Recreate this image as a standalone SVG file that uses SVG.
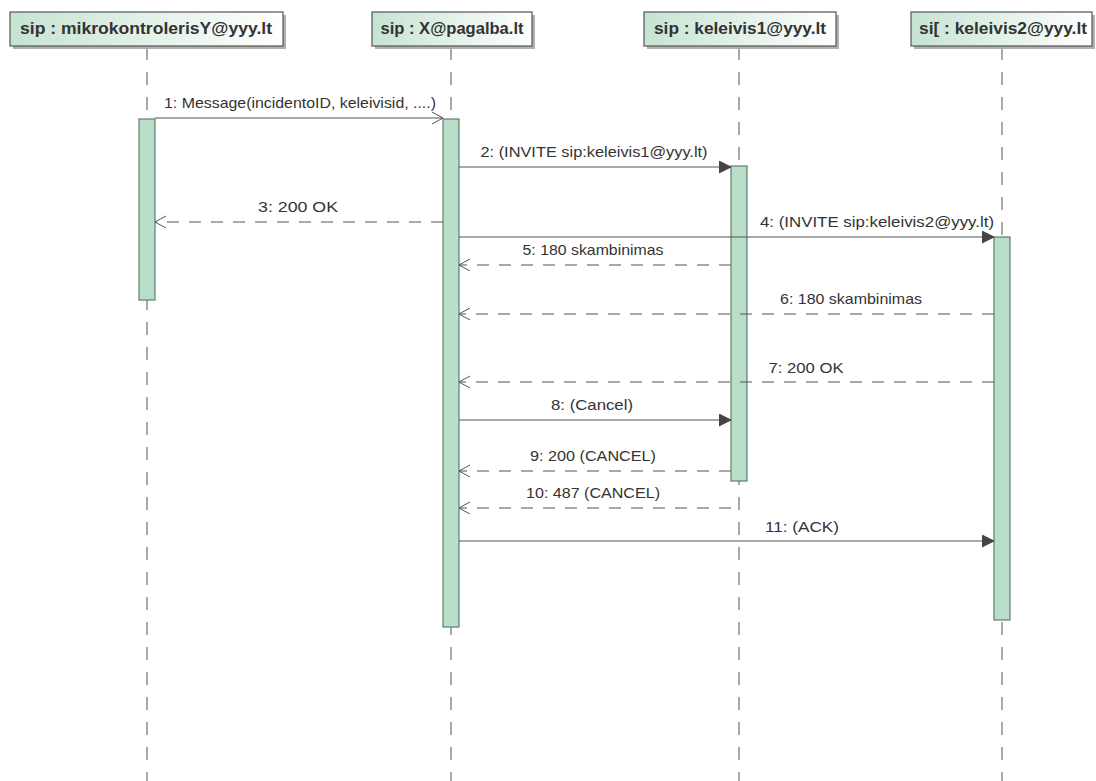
<svg xmlns="http://www.w3.org/2000/svg" width="1096" height="781" viewBox="0 0 1096 781">
<defs>
<linearGradient id="hg" x1="0" y1="0" x2="1" y2="0">
<stop offset="0" stop-color="#c6e3d2"/>
<stop offset="1" stop-color="#ffffff"/>
</linearGradient>
<marker id="open" markerWidth="14" markerHeight="14" refX="12" refY="6" orient="auto" markerUnits="userSpaceOnUse">
<path d="M1,0 L12,6 L1,12" fill="none" stroke="#555" stroke-width="1"/>
</marker>
<marker id="filled" markerWidth="14" markerHeight="14" refX="12" refY="6" orient="auto" markerUnits="userSpaceOnUse">
<path d="M0,0 L12,6 L0,12 Z" fill="#444" stroke="#444"/>
</marker>
<style>
.head{fill:url(#hg);stroke:#555;stroke-width:1.2}
.shadow{fill:#b0b0b0}
.ht{font-family:"Liberation Sans",Arial,sans-serif;font-size:16px;font-weight:bold;fill:#333;text-anchor:middle}
.life{stroke:#555;stroke-width:1;stroke-dasharray:13 12;fill:none}
.act{fill:#b9dfca;stroke:#5f7d6c;stroke-width:1.2}
.msg{stroke:#555;stroke-width:1.1;fill:none}
.ret{stroke:#555;stroke-width:1.1;fill:none;stroke-dasharray:12 10}
.lbl{font-family:"Liberation Sans",Arial,sans-serif;font-size:15px;fill:#333;text-anchor:middle}
</style>
</defs>
<rect width="1096" height="781" fill="#fff"/>

<g id="lifeline-mikrokontroleris">
<line class="life" x1="147" y1="47" x2="147" y2="781"/>
<rect class="shadow" x="13" y="15" width="273" height="34"/>
<rect class="head" x="10" y="12" width="273" height="34"/>
<text class="ht" x="146" y="34" textLength="252" lengthAdjust="spacingAndGlyphs">sip : mikrokontrolerisY@yyy.lt</text>
<rect class="act" x="139" y="119" width="16" height="181"/>
</g>

<g id="lifeline-pagalba">
<line class="life" x1="451" y1="47" x2="451" y2="781"/>
<rect class="shadow" x="375" y="15" width="160" height="34"/>
<rect class="head" x="372" y="12" width="160" height="34"/>
<text class="ht" x="452" y="34" textLength="143" lengthAdjust="spacingAndGlyphs">sip : X@pagalba.lt</text>
<rect class="act" x="443" y="119" width="16" height="508"/>
</g>

<g id="lifeline-keleivis1">
<line class="life" x1="739" y1="47" x2="739" y2="781"/>
<rect class="shadow" x="647" y="15" width="192" height="34"/>
<rect class="head" x="644" y="12" width="192" height="34"/>
<text class="ht" x="740" y="34" textLength="172" lengthAdjust="spacingAndGlyphs">sip : keleivis1@yyy.lt</text>
<rect class="act" x="731" y="166" width="16" height="315"/>
</g>

<g id="lifeline-keleivis2">
<line class="life" x1="1002" y1="47" x2="1002" y2="781"/>
<rect class="shadow" x="914" y="15" width="181" height="34"/>
<rect class="head" x="911" y="12" width="181" height="34"/>
<text class="ht" x="1003" y="34" textLength="168" lengthAdjust="spacingAndGlyphs">si[ : keleivis2@yyy.lt</text>
<rect class="act" x="994" y="237" width="16" height="383"/>
</g>

<g id="connectors">
<line class="msg" x1="155" y1="118" x2="443" y2="118" marker-end="url(#open)"/>
<text class="lbl" x="300" y="108" textLength="272" lengthAdjust="spacingAndGlyphs">1: Message(incidentoID, keleivisid, ....)</text>

<line class="msg" x1="459" y1="167" x2="731" y2="167" marker-end="url(#filled)"/>
<text class="lbl" x="594" y="157" textLength="227" lengthAdjust="spacingAndGlyphs">2: (INVITE sip:keleivis1@yyy.lt)</text>

<line class="ret" x1="443" y1="222" x2="155" y2="222" marker-end="url(#open)"/>
<text class="lbl" x="298" y="212" textLength="80" lengthAdjust="spacingAndGlyphs">3: 200 OK</text>

<line class="msg" x1="459" y1="237" x2="994" y2="237" marker-end="url(#filled)"/>
<text class="lbl" x="877" y="227" textLength="234" lengthAdjust="spacingAndGlyphs">4: (INVITE sip:keleivis2@yyy.lt)</text>

<line class="ret" x1="731" y1="265" x2="459" y2="265" marker-end="url(#open)"/>
<text class="lbl" x="593" y="255" textLength="141" lengthAdjust="spacingAndGlyphs">5: 180 skambinimas</text>

<line class="ret" x1="994" y1="314" x2="459" y2="314" marker-end="url(#open)"/>
<text class="lbl" x="851" y="304" textLength="142" lengthAdjust="spacingAndGlyphs">6: 180 skambinimas</text>

<line class="ret" x1="994" y1="382" x2="459" y2="382" marker-end="url(#open)"/>
<text class="lbl" x="806" y="373" textLength="75" lengthAdjust="spacingAndGlyphs">7: 200 OK</text>

<line class="msg" x1="459" y1="420" x2="731" y2="420" marker-end="url(#filled)"/>
<text class="lbl" x="592" y="410" textLength="82" lengthAdjust="spacingAndGlyphs">8: (Cancel)</text>

<line class="ret" x1="731" y1="471" x2="459" y2="471" marker-end="url(#open)"/>
<text class="lbl" x="593" y="461" textLength="126" lengthAdjust="spacingAndGlyphs">9: 200 (CANCEL)</text>

<line class="ret" x1="731" y1="508" x2="459" y2="508" marker-end="url(#open)"/>
<text class="lbl" x="593" y="498" textLength="134" lengthAdjust="spacingAndGlyphs">10: 487 (CANCEL)</text>

<line class="msg" x1="459" y1="541" x2="994" y2="541" marker-end="url(#filled)"/>
<text class="lbl" x="802" y="532" textLength="74" lengthAdjust="spacingAndGlyphs">11: (ACK)</text>
</g>
</svg>
